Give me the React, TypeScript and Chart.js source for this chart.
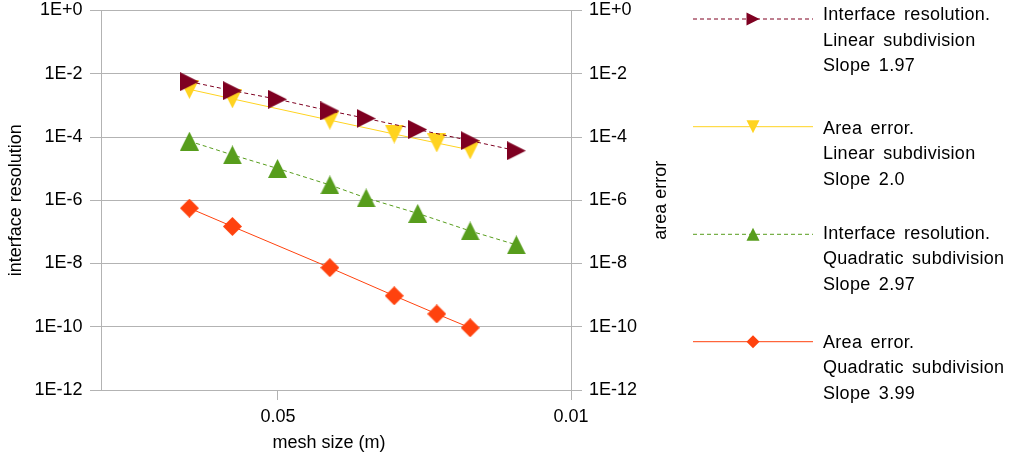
import React, { useEffect, useRef } from 'react';
import { Chart, registerables } from 'chart.js';

Chart.register(...registerables);

// ---------- data ----------
const seriesLabels: string[][] = [
  ['Interface resolution.', 'Linear subdivision', 'Slope 1.97'],
  ['Area error.', 'Linear subdivision', 'Slope 2.0'],
  ['Interface resolution.', 'Quadratic subdivision', 'Slope 2.97'],
  ['Area error.', 'Quadratic subdivision', 'Slope 3.99'],
];
const interfaceMesh = [0.0813, 0.0642, 0.0501, 0.0376, 0.0308, 0.0232, 0.0174, 0.0135];
const areaMesh = [0.0813, 0.0642, 0.0376, 0.0264, 0.0209, 0.0174];
const interfaceLinear = [5.63e-3, 2.92e-3, 1.56e-3, 6.68e-4, 3.88e-4, 1.72e-4, 7.65e-5, 3.69e-5];
const areaLinear = [3.21e-3, 1.61e-3, 3.41e-4, 1.24e-4, 6.48e-5, 3.91e-5];
const interfaceQuadratic = [7.38e-5, 2.72e-5, 1.01e-5, 3.05e-6, 1.18e-6, 3.84e-7, 1.07e-7, 3.89e-8];
const areaQuadratic = [5.63e-7, 1.48e-7, 7.38e-9, 9.55e-10, 2.55e-10, 9.27e-11];

const yTickValues = [1, 1e-2, 1e-4, 1e-6, 1e-8, 1e-10, 1e-12];
const yTickLabels = ['1E+0', '1E-2', '1E-4', '1E-6', '1E-8', '1E-10', '1E-12'];
const xTickValues = [0.05, 0.01];
const xTickLabels = ['0.05', '0.01'];
const xMin = 0.01;
const xMax = 0.1321;
const yMin = 1e-12;
const yMax = 1;

const xTitle = 'mesh size (m)';
const yLeftTitle = 'interface resolution';
const yRightTitle = 'area error';

// ---------- styles ----------
const FONT = "'Liberation Sans', Arial, sans-serif";
const seriesColors = ['#7e0021', '#ffd320', '#579d1c', '#ff420e'];
const seriesDash: number[][] = [[4, 3], [], [4, 3], []];
const markerShapes = ['right', 'down', 'up', 'diamond'];
const GRID = '#b3b3b3';

function shapePath(ctx: CanvasRenderingContext2D, shape: string, cx: number, cy: number, s: number) {
  const h = s / 2;
  ctx.beginPath();
  if (shape === 'right') {
    ctx.moveTo(cx - h, cy - h);
    ctx.lineTo(cx + h, cy);
    ctx.lineTo(cx - h, cy + h);
  } else if (shape === 'down') {
    ctx.moveTo(cx - h, cy - h);
    ctx.lineTo(cx + h, cy - h);
    ctx.lineTo(cx, cy + h);
  } else if (shape === 'up') {
    ctx.moveTo(cx, cy - h);
    ctx.lineTo(cx + h, cy + h);
    ctx.lineTo(cx - h, cy + h);
  } else {
    ctx.moveTo(cx, cy - h);
    ctx.lineTo(cx + h, cy);
    ctx.lineTo(cx, cy + h);
    ctx.lineTo(cx - h, cy);
  }
  ctx.closePath();
}

function makeMarker(shape: string, color: string, size: number) {
  const c = document.createElement('canvas');
  c.width = size;
  c.height = size;
  const g = c.getContext('2d')!;
  g.fillStyle = color;
  shapePath(g, shape, size / 2, size / 2, size);
  g.fill();
  return c;
}

const legendMarkerY = [19, 126.7, 234.3, 341.7];
const legendTextY = [15.5, 129, 234, 342.7];

const textPlugin = {
  id: 'customText',
  afterDraw(chart: any) {
    const ctx: CanvasRenderingContext2D = chart.ctx;
    const area = chart.chartArea;
    const midY = (area.top + area.bottom) / 2;
    ctx.save();
    ctx.fillStyle = '#000';
    ctx.font = `18px ${FONT}`;
    ctx.textBaseline = 'alphabetic';
    ctx.textAlign = 'center';
    ctx.fillText(xTitle, 329, 448.3);

    ctx.save();
    ctx.translate(20.5, midY);
    ctx.rotate(-Math.PI / 2);
    ctx.fillText(yLeftTitle, 0, 0);
    ctx.restore();

    ctx.save();
    ctx.translate(666, midY);
    ctx.rotate(-Math.PI / 2);
    ctx.fillText(yRightTitle, 0, 0);
    ctx.restore();

    // legend
    seriesLabels.forEach((lines, i) => {
      const y = legendMarkerY[i];
      ctx.save();
      ctx.strokeStyle = seriesColors[i];
      ctx.lineWidth = 1;
      ctx.setLineDash(seriesDash[i]);
      ctx.beginPath();
      ctx.moveTo(693, y);
      ctx.lineTo(813, y);
      ctx.stroke();
      ctx.setLineDash([]);
      ctx.fillStyle = seriesColors[i];
      shapePath(ctx, markerShapes[i], 753, y, 13);
      ctx.fill();
      ctx.restore();

      ctx.save();
      ctx.fillStyle = '#000';
      ctx.font = `18px ${FONT}`;
      ctx.textAlign = 'left';
      ctx.textBaseline = 'middle';
      (ctx as any).letterSpacing = '0.3px';
      (ctx as any).wordSpacing = '3px';
      lines.forEach((t, j) => {
        ctx.fillText(t, 823, legendTextY[i] + j * 25.5);
      });
      ctx.restore();
    });
    ctx.restore();
  },
};

export default function App() {
  const ref = useRef<HTMLCanvasElement>(null);

  useEffect(() => {
    const canvas = ref.current;
    if (!canvas) return;
    const markers = markerShapes.map((s, i) => makeMarker(s, seriesColors[i], 19));

    const xs = [interfaceMesh, areaMesh, interfaceMesh, areaMesh];
    const ys = [interfaceLinear, areaLinear, interfaceQuadratic, areaQuadratic];
    const axisIds = ['y', 'y2', 'y', 'y2'];

    const datasets = ys.map((vals, i) => ({
      label: seriesLabels[i].join(' '),
      data: vals.map((v, k) => ({ x: xs[i][k], y: v })),
      yAxisID: axisIds[i],
      borderColor: seriesColors[i],
      backgroundColor: seriesColors[i],
      borderWidth: 1,
      borderDash: seriesDash[i],
      pointStyle: markers[i],
      pointRadius: 9.5,
      tension: 0,
      fill: false,
    }));

    const yTicks = (s: any) => {
      s.ticks = yTickValues.map((v) => ({ value: v }));
    };

    const chart = new Chart(canvas, {
      type: 'line',
      data: { datasets: datasets as any },
      plugins: [textPlugin as any],
      options: {
        responsive: false,
        animation: false,
        layout: { padding: { top: 7.5, left: 0, right: 0, bottom: 0 } },
        font: { family: FONT, size: 18 } as any,
        plugins: {
          legend: { display: false },
          tooltip: { enabled: false },
        },
        scales: {
          x: {
            type: 'logarithmic',
            position: 'bottom',
            reverse: true,
            min: xMin,
            max: xMax,
            afterBuildTicks: (s: any) => {
              s.ticks = xTickValues.map((v) => ({ value: v }));
            },
            afterFit: (s: any) => {
              s.height = 71;
              s.paddingLeft = 0;
              s.paddingRight = 0;
            },
            ticks: {
              callback: (_v: any, i: number) => xTickLabels[i],
              padding: 6,
              maxRotation: 0,
              autoSkip: false,
              color: '#000',
              font: { family: FONT, size: 18 },
            },
            grid: { drawOnChartArea: false, drawTicks: true, tickLength: 10, color: GRID },
            border: { color: GRID },
          },
          y: {
            type: 'logarithmic',
            position: 'left',
            min: yMin,
            max: yMax,
            afterBuildTicks: yTicks,
            afterFit: (s: any) => {
              s.width = 101;
              s.paddingTop = 0;
              s.paddingBottom = 0;
            },
            ticks: {
              callback: (_v: any, i: number) => yTickLabels[i],
              padding: 7.5,
              autoSkip: false,
              color: '#000',
              font: { family: FONT, size: 18 },
            },
            grid: { color: GRID, tickLength: 11, drawTicks: true },
            border: { color: GRID },
          },
          y2: {
            type: 'logarithmic',
            position: 'right',
            min: yMin,
            max: yMax,
            afterBuildTicks: yTicks,
            afterFit: (s: any) => {
              s.width = 444;
              s.paddingTop = 0;
              s.paddingBottom = 0;
            },
            ticks: {
              callback: (_v: any, i: number) => yTickLabels[i],
              padding: 7,
              autoSkip: false,
              color: '#000',
              font: { family: FONT, size: 18 },
            },
            grid: { color: GRID, tickLength: 11, drawTicks: true, drawOnChartArea: false },
            border: { color: GRID },
          },
        },
      } as any,
    });
    return () => chart.destroy();
  }, []);

  return (
    <div style={{ position: 'fixed', left: 0, top: 0, width: 1015, height: 461, background: '#fff' }}>
      <canvas ref={ref} width={1015} height={461} style={{ display: 'block', width: 1015, height: 461 }} />
    </div>
  );
}
